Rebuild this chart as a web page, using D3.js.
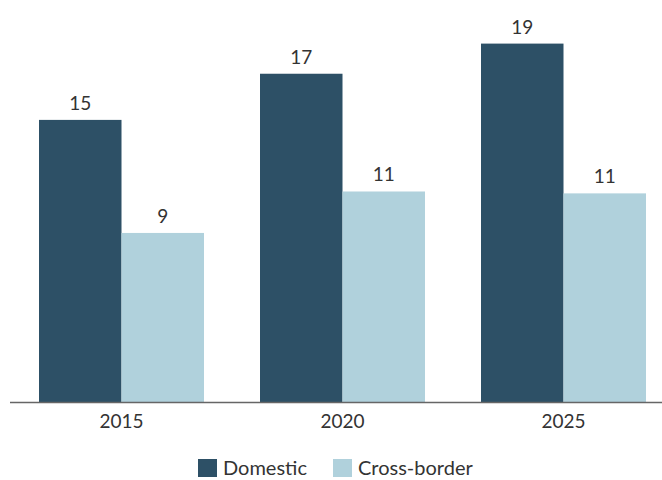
<!DOCTYPE html>
<html>
<head>
<meta charset="utf-8">
<script src="https://cdn.jsdelivr.net/npm/d3@7"></script>
<style>
  html, body { margin: 0; padding: 0; background: #fff; }
  svg { display: block; font-family: Lato, "Open Sans", sans-serif; }
</style>
</head>
<body>
<svg id="chart" width="662" height="480"></svg>
<script>
// Years on the x axis and the two series plotted for each year
const years = ["2015", "2020", "2025"];
const seriesNames = ["Domestic", "Cross-border"];
const domestic = [15, 17.45, 19.05];
const crossBorder = [9, 11.2, 11.1];
const seriesColors = ["#2d5066", "#b0d1dc"];

const width = 662, height = 480;
const svg = d3.select("#chart");

const rows = years.map((y, i) => ({ year: y, values: [domestic[i], crossBorder[i]] }));

const x0 = d3.scaleBand()
  .domain(years)
  .range([11, 674])
  .paddingInner(0.2534)
  .paddingOuter(0.1267);

const x1 = d3.scaleBand()
  .domain(seriesNames)
  .range([0, x0.bandwidth()])
  .padding(0);

const baseline = 402.5;
const y = d3.scaleLinear()
  .domain([0, 20])
  .range([baseline, baseline - 20 * 18.84]);

const color = d3.scaleOrdinal().domain(seriesNames).range(seriesColors);
const fmt = d3.format(".0f");

// Bars and value labels
const groups = svg.append("g").selectAll("g")
  .data(rows)
  .join("g")
  .attr("transform", d => `translate(${x0(d.year)},0)`);

const cells = groups.selectAll("g")
  .data(d => d.values.map((v, k) => ({ key: seriesNames[k], value: v })))
  .join("g");

cells.append("rect")
  .attr("x", d => x1(d.key))
  .attr("y", d => y(d.value))
  .attr("width", x1.bandwidth())
  .attr("height", d => y(0) - y(d.value))
  .attr("fill", d => color(d.key));

cells.append("text")
  .attr("x", d => x1(d.key) + x1.bandwidth() / 2)
  .attr("y", d => y(d.value) - 10)
  .attr("text-anchor", "middle")
  .attr("font-size", 19)
  .attr("fill", "#333")
  .text(d => fmt(d.value));

// X axis
const xAxis = svg.append("g")
  .attr("transform", `translate(0,${baseline})`)
  .call(d3.axisBottom(x0).tickSize(0).tickPadding(12));
xAxis.select(".domain")
  .attr("d", `M10,0H${width}`)
  .attr("stroke", "#666")
  .attr("stroke-width", 1.5);
xAxis.selectAll("text")
  .attr("font-size", 19)
  .attr("font-family", "Lato, 'Open Sans', sans-serif")
  .attr("fill", "#333")
  .attr("dy", "0.71em");

// Legend
const legendX = [198, 333];
const legend = svg.append("g").selectAll("g")
  .data(seriesNames)
  .join("g")
  .attr("transform", (d, i) => `translate(${legendX[i]},459)`);

legend.append("rect")
  .attr("width", 19)
  .attr("height", 18)
  .attr("fill", d => color(d));

legend.append("text")
  .attr("x", 25)
  .attr("y", 16)
  .attr("font-size", 20)
  .attr("fill", "#333")
  .text(d => d);
</script>
</body>
</html>
